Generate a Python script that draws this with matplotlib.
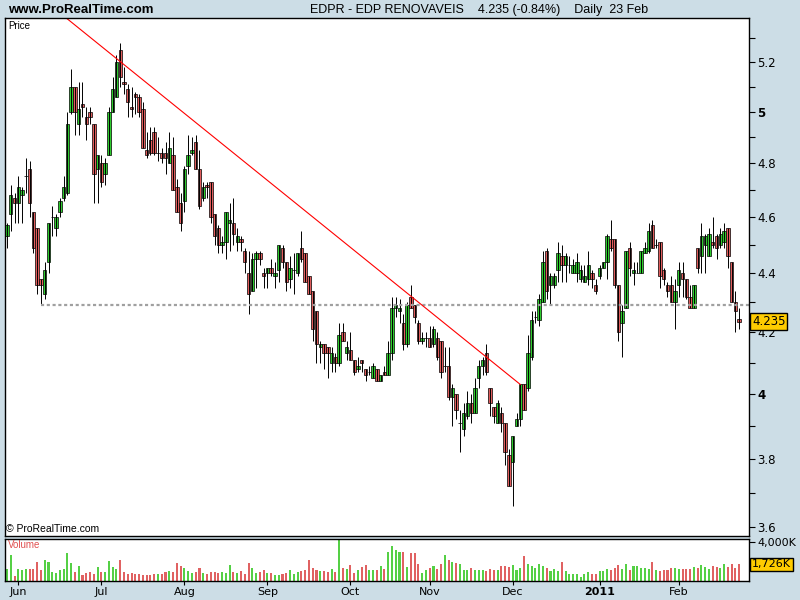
import numpy as np
import pandas as pd
import matplotlib
matplotlib.use("Agg")
import matplotlib.pyplot as plt
from matplotlib.ticker import FixedLocator, NullFormatter

# EDPR daily bars, 27 May 2010 - 23 Feb 2011
dates = pd.bdate_range("2010-05-27", "2011-02-23")

opens = [4.53, 4.61, 4.67, 4.65, 4.68, 4.75, 4.78, 4.62, 4.56, 4.38,
         4.33, 4.44, 4.60, 4.56, 4.62, 4.67, 4.69, 5.00, 5.10, 4.95,
         5.03, 4.98, 5.00, 4.95, 4.78, 4.80, 4.76, 4.83, 5.00, 5.06,
         5.25, 5.12, 5.09, 5.02, 5.07, 5.06, 5.01, 4.85, 4.89, 4.92,
         4.84, 4.84, 4.84, 4.80, 4.83, 4.71, 4.65, 4.66, 4.79, 4.84,
         4.88, 4.78, 4.67, 4.72, 4.73, 4.61, 4.56, 4.50, 4.51, 4.58,
         4.58, 4.51, 4.52, 4.48, 4.40, 4.34, 4.45, 4.47, 4.40, 4.40,
         4.42, 4.39, 4.41, 4.49, 4.44, 4.38, 4.41, 4.40, 4.49, 4.47,
         4.39, 4.34, 4.27, 4.15, 4.16, 4.15, 4.10, 4.12, 4.10, 4.20,
         4.13, 4.14, 4.11, 4.08, 4.11, 4.08, 4.07, 4.05, 4.08, 4.04,
         4.07, 4.06, 4.13, 4.28, 4.27, 4.23, 4.16, 4.32, 4.29, 4.23,
         4.17, 4.18, 4.18, 4.16, 4.18, 4.17, 4.09, 4.09, 3.99, 4.00,
         3.91, 3.89, 3.93, 3.97, 3.94, 4.05, 4.09, 4.13, 4.02, 3.96,
         3.91, 3.94, 3.91, 3.81, 3.79, 3.90, 3.92, 4.03, 4.02, 4.12,
         4.25, 4.24, 4.30, 4.48, 4.36, 4.36, 4.41, 4.46, 4.43, 4.43,
         4.40, 4.40, 4.38, 4.37, 4.38, 4.40, 4.36, 4.39, 4.42, 4.44,
         4.52, 4.52, 4.36, 4.23, 4.28, 4.49, 4.40, 4.40, 4.40, 4.47,
         4.48, 4.57, 4.50, 4.51, 4.41, 4.36, 4.36, 4.30, 4.36, 4.40,
         4.38, 4.32, 4.28, 4.49, 4.46, 4.50, 4.46, 4.51, 4.53, 4.50,
         4.51, 4.56, 4.44, 4.30, 4.245]

highs = [4.58, 4.72, 4.69, 4.75, 4.71, 4.82, 4.81, 4.62, 4.56, 4.38,
         4.44, 4.58, 4.64, 4.61, 4.67, 4.75, 5.00, 5.17, 5.10, 5.12,
         5.12, 5.02, 5.02, 4.95, 4.83, 4.83, 4.82, 5.02, 5.14, 5.23,
         5.28, 5.18, 5.11, 5.10, 5.08, 5.07, 5.04, 4.92, 4.94, 4.94,
         4.90, 4.86, 4.88, 4.92, 4.90, 4.74, 4.69, 4.79, 4.91, 4.90,
         4.91, 4.85, 4.73, 4.73, 4.73, 4.61, 4.57, 4.53, 4.62, 4.65,
         4.67, 4.56, 4.53, 4.49, 4.48, 4.47, 4.48, 4.48, 4.42, 4.42,
         4.45, 4.44, 4.50, 4.50, 4.44, 4.46, 4.47, 4.47, 4.55, 4.47,
         4.39, 4.34, 4.27, 4.17, 4.16, 4.15, 4.15, 4.13, 4.23, 4.23,
         4.17, 4.20, 4.11, 4.12, 4.11, 4.08, 4.09, 4.10, 4.08, 4.06,
         4.09, 4.17, 4.32, 4.32, 4.31, 4.26, 4.30, 4.36, 4.29, 4.24,
         4.20, 4.20, 4.22, 4.22, 4.20, 4.17, 4.15, 4.15, 4.03, 4.00,
         3.95, 3.97, 4.01, 4.00, 4.05, 4.11, 4.12, 4.16, 4.02, 3.96,
         3.98, 3.96, 3.91, 3.83, 3.87, 3.94, 4.03, 4.03, 4.19, 4.27,
         4.27, 4.33, 4.48, 4.49, 4.40, 4.40, 4.51, 4.50, 4.47, 4.46,
         4.45, 4.47, 4.43, 4.43, 4.48, 4.41, 4.38, 4.43, 4.44, 4.54,
         4.59, 4.52, 4.36, 4.29, 4.48, 4.51, 4.44, 4.44, 4.48, 4.51,
         4.58, 4.59, 4.52, 4.51, 4.42, 4.37, 4.39, 4.38, 4.44, 4.44,
         4.38, 4.36, 4.36, 4.49, 4.58, 4.54, 4.56, 4.60, 4.54, 4.56,
         4.58, 4.56, 4.44, 4.34, 4.28]

lows = [4.49, 4.55, 4.58, 4.58, 4.58, 4.69, 4.60, 4.47, 4.33, 4.29,
        4.31, 4.40, 4.53, 4.53, 4.60, 4.66, 4.68, 4.99, 4.91, 4.91,
        4.98, 4.89, 4.95, 4.65, 4.65, 4.71, 4.72, 4.83, 5.00, 5.06,
        5.10, 5.07, 4.98, 4.98, 4.99, 4.98, 4.86, 4.82, 4.83, 4.83,
        4.81, 4.80, 4.76, 4.80, 4.70, 4.62, 4.55, 4.62, 4.76, 4.83,
        4.78, 4.63, 4.66, 4.67, 4.58, 4.50, 4.47, 4.47, 4.45, 4.48,
        4.50, 4.48, 4.48, 4.40, 4.26, 4.34, 4.35, 4.43, 4.35, 4.35,
        4.39, 4.35, 4.37, 4.42, 4.34, 4.35, 4.33, 4.39, 4.44, 4.37,
        4.33, 4.17, 4.10, 4.10, 4.08, 4.05, 4.07, 4.07, 4.09, 4.17,
        4.11, 4.11, 4.06, 4.07, 4.07, 4.04, 4.06, 4.05, 4.04, 4.04,
        4.06, 4.06, 4.11, 4.25, 4.23, 4.14, 4.15, 4.28, 4.23, 4.16,
        4.16, 4.15, 4.15, 4.15, 4.11, 4.05, 4.07, 3.98, 3.90, 3.92,
        3.82, 3.87, 3.92, 3.91, 3.94, 4.02, 4.06, 4.06, 3.93, 3.91,
        3.91, 3.88, 3.78, 3.72, 3.66, 3.90, 3.90, 3.95, 4.01, 4.11,
        4.23, 4.22, 4.30, 4.31, 4.29, 4.35, 4.37, 4.37, 4.37, 4.40,
        4.40, 4.37, 4.37, 4.37, 4.36, 4.35, 4.33, 4.38, 4.42, 4.38,
        4.48, 4.35, 4.17, 4.12, 4.28, 4.39, 4.36, 4.40, 4.40, 4.47,
        4.47, 4.49, 4.49, 4.35, 4.36, 4.32, 4.30, 4.21, 4.32, 4.32,
        4.31, 4.28, 4.28, 4.40, 4.40, 4.40, 4.46, 4.49, 4.45, 4.49,
        4.49, 4.42, 4.30, 4.20, 4.21]

closes = [4.57, 4.68, 4.65, 4.71, 4.70, 4.75, 4.65, 4.49, 4.36, 4.36,
          4.41, 4.58, 4.60, 4.60, 4.66, 4.71, 4.95, 5.10, 5.00, 5.01,
          5.02, 4.95, 4.98, 4.76, 4.83, 4.73, 4.80, 5.00, 5.09, 5.20,
          5.14, 5.11, 5.04, 5.01, 5.06, 5.00, 4.86, 4.83, 4.84, 4.84,
          4.84, 4.82, 4.82, 4.86, 4.70, 4.62, 4.58, 4.78, 4.83, 4.85,
          4.78, 4.64, 4.71, 4.71, 4.60, 4.53, 4.50, 4.51, 4.62, 4.59,
          4.54, 4.53, 4.51, 4.44, 4.33, 4.45, 4.47, 4.45, 4.39, 4.42,
          4.40, 4.40, 4.50, 4.44, 4.37, 4.42, 4.41, 4.47, 4.45, 4.37,
          4.33, 4.21, 4.16, 4.16, 4.13, 4.13, 4.13, 4.10, 4.19, 4.17,
          4.15, 4.11, 4.07, 4.09, 4.10, 4.06, 4.07, 4.09, 4.04, 4.06,
          4.06, 4.13, 4.28, 4.29, 4.28, 4.16, 4.29, 4.28, 4.25, 4.17,
          4.18, 4.18, 4.15, 4.21, 4.12, 4.07, 4.09, 3.99, 4.02, 3.95,
          3.91, 3.94, 3.97, 3.94, 4.02, 4.09, 4.11, 4.07, 3.97, 3.93,
          3.97, 3.91, 3.82, 3.72, 3.87, 3.92, 4.03, 3.95, 4.13, 4.24,
          4.25, 4.31, 4.44, 4.34, 4.39, 4.39, 4.47, 4.43, 4.46, 4.43,
          4.43, 4.44, 4.41, 4.39, 4.43, 4.38, 4.34, 4.42, 4.44, 4.53,
          4.49, 4.36, 4.20, 4.27, 4.48, 4.42, 4.41, 4.40, 4.48, 4.49,
          4.55, 4.49, 4.50, 4.39, 4.38, 4.34, 4.30, 4.34, 4.41, 4.38,
          4.32, 4.28, 4.36, 4.42, 4.53, 4.53, 4.54, 4.50, 4.49, 4.54,
          4.55, 4.46, 4.30, 4.27, 4.235]

# volume in thousands of shares
volumes = [1200, 2660, 500, 1220, 1150, 1200, 1220, 1220, 1940, 1150,
           2120, 1940, 900, 800, 1100, 1200, 2900, 1870, 900, 1500,
           600, 800, 900, 700, 1450, 900, 900, 2020, 1400, 1250,
           2120, 900, 700, 800, 700, 700, 650, 600, 600, 700,
           700, 700, 900, 1000, 900, 1830, 1500, 1300, 1000, 800,
           900, 1300, 800, 700, 900, 900, 800, 900, 800, 1600,
           900, 800, 1000, 700, 1830, 1300, 800, 900, 1100, 800,
           800, 600, 600, 700, 800, 1100, 700, 900, 1000, 1100,
           2150, 1300, 1100, 1000, 1000, 900, 1200, 900, 4300, 1300,
           1200, 1630, 800, 1100, 1400, 1600, 1100, 1100, 1100, 1500,
           1200, 2950, 3560, 3200, 2950, 3000, 1400, 2900, 2900, 1700,
           800, 1100, 1300, 1500, 1200, 1700, 2700, 2200, 2000, 1900,
           1800, 1100, 1100, 1300, 1100, 1100, 1100, 1000, 1200, 1100,
           1100, 1500, 1500, 1400, 1600, 1100, 1300, 2600, 1800, 1500,
           1300, 1800, 1500, 1300, 1000, 1200, 1000, 2000, 1000, 700,
           700, 700, 400, 700, 900, 700, 700, 1000, 1000, 1200,
           1100, 1300, 1600, 1200, 1700, 1100, 1500, 1500, 1300, 1300,
           1200, 2000, 1100, 1000, 1100, 1100, 1300, 1300, 1200, 1200,
           1200, 1200, 1400, 1300, 1600, 1400, 1200, 1500, 1400, 1300,
           1700, 1400, 1800, 1300, 1726]

price_ticks = [3.6, 3.8, 4.0, 4.2, 4.4, 4.6, 4.8, 5.0, 5.2]
price_labels = ["3.6", "3.8", "4", "4.2", "4.4", "4.6", "4.8", "5", "5.2"]

trend_dates = ["2010-06-18", "2010-12-03"]
trend_prices = [5.38, 4.03]
support_date = "2010-06-09"
support_price = 4.29

bg = "#CCDDE6"
green = "#2ECC2E"
red = "#E05C5C"

x = np.arange(len(dates))
o = np.array(opens)
h = np.array(highs)
l = np.array(lows)
c = np.array(closes)
up = c >= o
cols = np.where(up, green, red)
vcols = np.where(up, "#55D045", "#E06262")

fig = plt.figure(figsize=(8, 6), dpi=100, facecolor=bg)
ax = fig.add_axes([5 / 800, 1 - 536 / 600, 744 / 800, 518 / 600])
axv = fig.add_axes([5 / 800, 1 - 581 / 600, 744 / 800, 42 / 600], sharex=ax)

# candles
ax.vlines(x, l, h, color="black", lw=0.7)
ax.bar(x, np.abs(c - o), 0.9, np.minimum(o, c), color=cols,
       edgecolor="black", lw=0.5)

ax.set_yscale("log")
ax.set_ylim(3.575, 5.384)
ax.set_xlim(-0.53, 196.6)

# support line and trend line
si = dates.get_loc(pd.Timestamp(support_date))
ax.hlines(support_price, si, 197, colors="#A0A0A0", lw=1.6,
          linestyles=(0, (1.4, 1.2)))
ti = [dates.get_loc(pd.Timestamp(d)) for d in trend_dates]
ax.plot(ti, trend_prices, color="#FF0000", lw=0.8)

ax.yaxis.tick_right()
ax.yaxis.set_major_locator(FixedLocator(price_ticks))
ax.yaxis.set_minor_locator(FixedLocator([3.7, 3.9, 4.1, 4.3, 4.5, 4.7, 4.9, 5.1, 5.3]))
ax.yaxis.set_minor_formatter(NullFormatter())
ax.set_yticklabels(price_labels)
for lab in ax.get_yticklabels():
    if lab.get_text() in ("4", "5"):
        lab.set_fontweight("bold")
ax.tick_params(axis="y", which="both", direction="out", length=4,
               labelsize=8.5, pad=2, width=0.8)
ax.tick_params(axis="x", bottom=False, labelbottom=False)

ax.text(0.004, 0.995, "Price", transform=ax.transAxes, fontsize=7,
        va="top", ha="left", family="Liberation Sans")
ax.text(0.002, 0.003, "\u00a9 ProRealTime.com", transform=ax.transAxes,
        fontsize=7.5, va="bottom", ha="left", family="Liberation Sans")
ax.text(1.004, 4.235, "4.235", transform=ax.get_yaxis_transform(),
        fontsize=8.5, va="center", ha="left", family="DejaVu Sans",
        bbox=dict(boxstyle="square,pad=0.15", fc="#FFCC00", ec="black", lw=1))

# volume
axv.bar(x, volumes, 0.55, color=vcols, antialiased=False)
axv.set_ylim(0, 4320)
axv.yaxis.tick_right()
axv.yaxis.set_major_locator(FixedLocator([4000]))
axv.yaxis.set_minor_locator(FixedLocator([2000]))
axv.yaxis.set_minor_formatter(NullFormatter())
axv.set_yticklabels(["4,000K"])
axv.tick_params(axis="y", which="both", direction="out", length=4,
                labelsize=8, pad=2, width=0.8)
axv.text(0.004, 0.97, "Volume", transform=axv.transAxes, fontsize=7,
         va="top", ha="left", color="#E05050", family="Liberation Sans")
axv.text(1.004, 1726, "1,726K", transform=axv.get_yaxis_transform(),
         fontsize=8, va="center", ha="left", family="DejaVu Sans",
         bbox=dict(boxstyle="square,pad=0.15", fc="#FFCC00", ec="black", lw=1))

# month ticks
month_pos = []
month_lab = []
prev = None
for i, d in enumerate(dates):
    if prev is not None and d.month != prev:
        month_pos.append(i)
        month_lab.append("2011" if d.month == 1 else d.strftime("%b"))
    prev = d.month
axv.set_xticks(month_pos)
axv.set_xticklabels(month_lab)
for lab in axv.get_xticklabels():
    if lab.get_text() == "2011":
        lab.set_fontweight("bold")
axv.tick_params(axis="x", direction="out", length=3, labelsize=8, pad=1,
                width=0.8)

for a in (ax, axv):
    a.set_facecolor("white")
    for s in a.spines.values():
        s.set_linewidth(1)

fig.text(8 / 800, 1 - 10 / 600, "www.ProRealTime.com", fontsize=9.5,
         fontweight="bold", va="center", ha="left", family="Liberation Sans")
fig.text(310 / 800, 1 - 10 / 600,
         "EDPR - EDP RENOVAVEIS    4.235 (-0.84%)    Daily  23 Feb",
         fontsize=9, va="center", ha="left", family="Liberation Sans")

fig.savefig("out.png", dpi=100, facecolor=bg)
